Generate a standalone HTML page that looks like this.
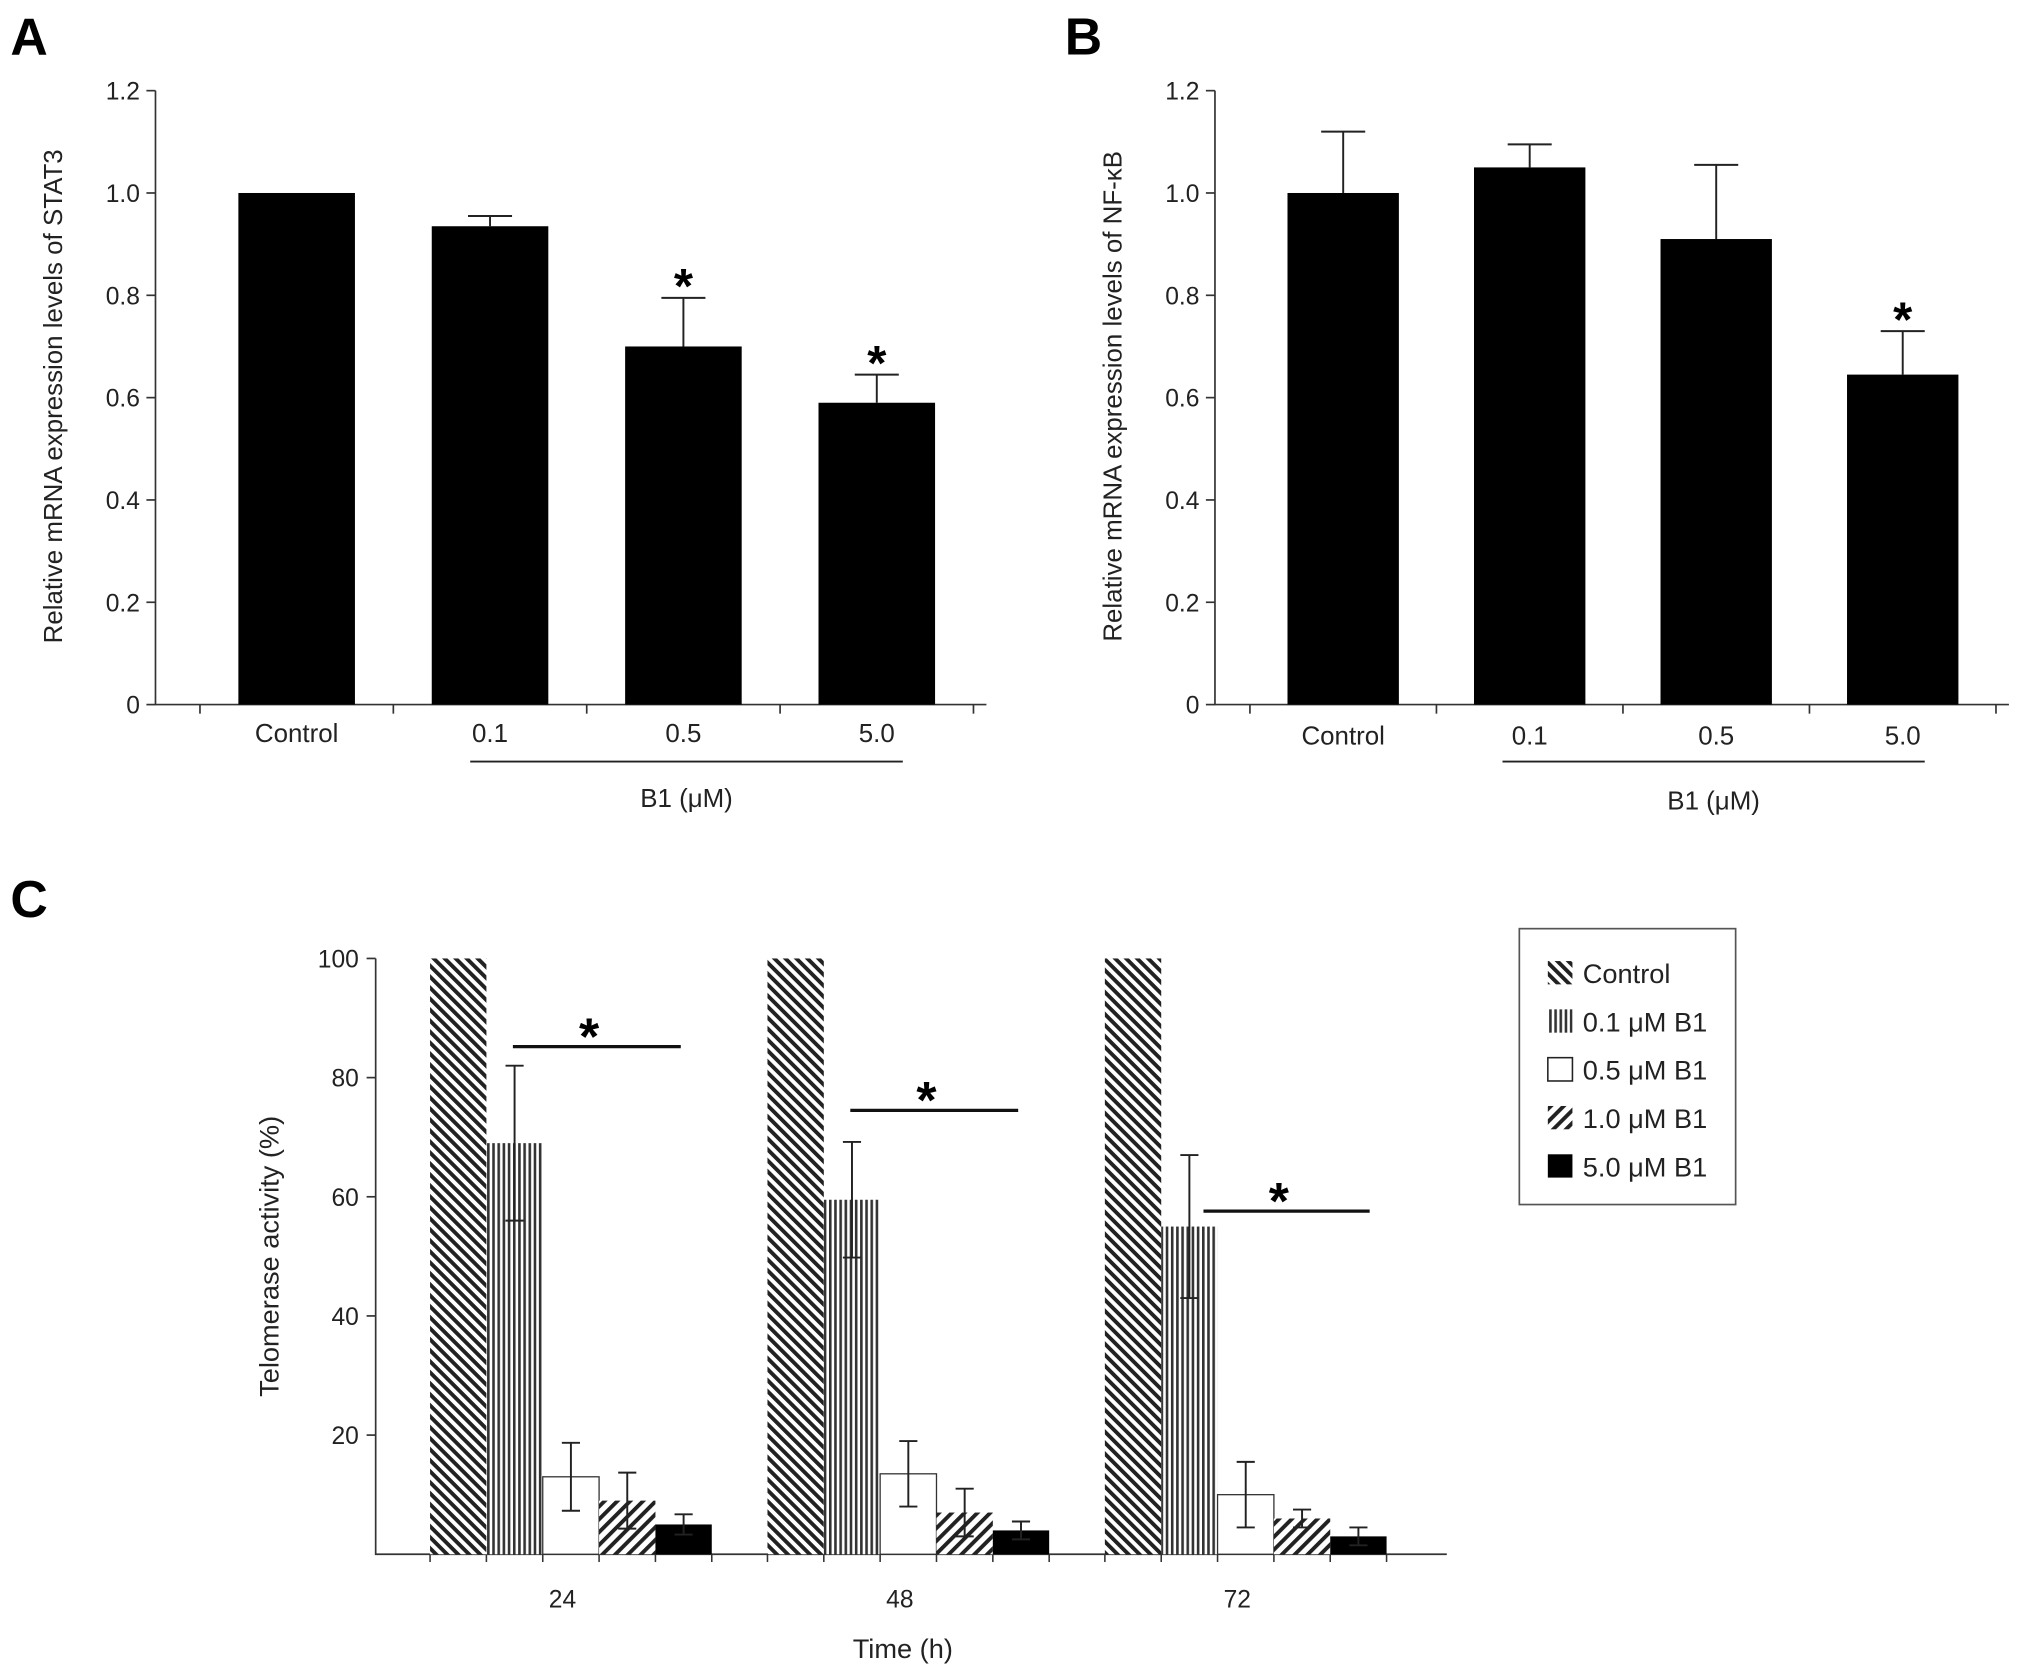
<!DOCTYPE html>
<html><head><meta charset="utf-8"><style>
html,body{margin:0;padding:0;background:#fff}
svg{display:block;font-family:"Liberation Sans",sans-serif}
</style></head><body>
<svg id="fig" width="2031" height="1676" viewBox="0 0 1568 1294" xmlns="http://www.w3.org/2000/svg">
<defs>
<pattern id="pCtrl" width="6" height="6" patternUnits="userSpaceOnUse" patternTransform="rotate(-45)"><rect width="6" height="6" fill="#fff"/><rect width="3" height="6" fill="#222"/></pattern>
<pattern id="pVert" width="4" height="4" patternUnits="userSpaceOnUse"><rect width="4" height="4" fill="#fff"/><rect width="2" height="4" fill="#333"/></pattern>
<pattern id="pDiag" width="7" height="7" patternUnits="userSpaceOnUse" patternTransform="rotate(45)"><rect width="7" height="7" fill="#fff"/><rect width="3" height="7" fill="#222"/></pattern>
</defs>
<g id="A"></g>
<g id="B"></g>
<g id="C"></g>
</svg>
<script>
const catsA=["Control","0.1","0.5","5.0"];
const valsA=[1.0,0.935,0.70,0.59];
const errA=[0,0.02,0.095,0.055];
const sigA=[false,false,true,true];
const catsB=["Control","0.1","0.5","5.0"];
const valsB=[1.0,1.05,0.91,0.645];
const errB=[0.12,0.045,0.145,0.085];
const sigB=[false,false,false,true];
const ticksAB=["0","0.2","0.4","0.6","0.8","1.0","1.2"];
const groupsC=["24","48","72"];
const seriesC=["Control","0.1 μM B1","0.5 μM B1","1.0 μM B1","5.0 μM B1"];
const ctrlC=[100,100,100];
const s01C=[69,59.5,55];
const s05C=[13,13.5,10];
const s10C=[9,7,6];
const s50C=[5,4,3];
const e01C=[13,9.7,12];
const e05C=[5.7,5.5,5.5];
const e10C=[4.7,4,1.5];
const e50C=[1.7,1.5,1.5];
const sigLineC=[85.2,74.5,57.6];
const ticksC=["20","40","60","80","100"];

const NS="http://www.w3.org/2000/svg";
function el(p,t,a){const e=document.createElementNS(NS,t);for(const k in a)e.setAttribute(k,a[k]);p.appendChild(e);return e;}

function panelAB(g,cats,vals,errs,sig,ax,barW,spacing,firstC,title,letter,letterX,lblY,ulx1,ulx2,ytitleX){
  const y=v=>544-v/1.2*474;
  const L=el(g,'text',{x:letterX,y:42,'font-size':40,'font-weight':'bold'});L.textContent=letter;
  
  
  const axis=el(g,'path',{d:`M${ax},70V544H${firstC+spacing*3.5+10}`,stroke:'#333','stroke-width':1.3,fill:'none'});
  
  
  ticksAB.forEach((t,i)=>{const v=i*0.2;
    el(g,'line',{x1:ax-7,x2:ax,y1:y(v),y2:y(v),stroke:'#333','stroke-width':1.3});
    const tx=el(g,'text',{x:ax-12,y:y(v)+7,'font-size':19,'text-anchor':'end',fill:'#222'});tx.textContent=t;
    
    
  });
  cats.forEach((c,i)=>{const cx=firstC+i*spacing;
    const b=el(g,'rect',{x:cx-barW/2,y:y(vals[i]),width:barW,height:544-y(vals[i]),fill:'#000'});
    
    
    el(g,'line',{x1:cx+spacing/2,x2:cx+spacing/2,y1:544,y2:551,stroke:'#333','stroke-width':1.3});
    if(i===0) el(g,'line',{x1:cx-spacing/2,x2:cx-spacing/2,y1:544,y2:551,stroke:'#333','stroke-width':1.3});
    if(errs[i]>0){const top=y(vals[i]+errs[i]);
      el(g,'line',{x1:cx,x2:cx,y1:top,y2:y(vals[i]),stroke:'#222','stroke-width':1.5});
      el(g,'line',{x1:cx-17,x2:cx+17,y1:top,y2:top,stroke:'#222','stroke-width':1.5});}
    if(sig[i]){const s=el(g,'text',{x:cx,y:y(vals[i]+errs[i])+4,'font-size':38,'font-weight':'bold','text-anchor':'middle'});s.textContent='*';
      
      }
    const t=el(g,'text',{x:cx,y:lblY,'font-size':20,'text-anchor':'middle',fill:'#222'});t.textContent=c;
    
    
  });
  el(g,'line',{x1:ulx1,x2:ulx2,y1:588,y2:588,stroke:'#222','stroke-width':1.5});
  const b1=el(g,'text',{x:(ulx1+ulx2)/2,y:lblY+50,'font-size':20,'text-anchor':'middle',fill:'#222'});b1.textContent='B1 (μM)';
  
  
  const yt=el(g,'text',{x:0,y:0,'font-size':20,'text-anchor':'middle',fill:'#222',transform:`translate(${ytitleX},306) rotate(-90)`});yt.textContent=title;
  
  
}
panelAB(document.getElementById('A'),catsA,valsA,errA,sigA,120,90,149.3,229,'Relative mRNA expression levels of STAT3','A',8,573,363,697,48);
panelAB(document.getElementById('B'),catsB,valsB,errB,sigB,938,86,144,1037,'Relative mRNA expression levels of NF-κB','B',822,575,1160,1486,866);

(function(){
  const g=document.getElementById('C');
  const y=v=>1200-v/100*460;
  const L=el(g,'text',{x:8,y:708,'font-size':40,'font-weight':'bold'});L.textContent='C';
  
  
  const ax=el(g,'path',{d:'M290,740V1200H1117',stroke:'#333','stroke-width':1.3,fill:'none'});
  
  
  ticksC.forEach(t=>{const v=+t;
    el(g,'line',{x1:283,x2:290,y1:y(v),y2:y(v),stroke:'#333','stroke-width':1.3});
    const tx=el(g,'text',{x:277,y:y(v)+7,'font-size':19,'text-anchor':'end',fill:'#222'});tx.textContent=t;
    
    
  });
  const fills=['url(#pCtrl)','url(#pVert)','#fff','url(#pDiag)','#000'];
  const vals=[ctrlC,s01C,s05C,s10C,s50C];
  const errs=[null,e01C,e05C,e10C,e50C];
  const bw=43.5, gap=260.5, x0=332;
  groupsC.forEach((gr,gi)=>{
    const gx=x0+gi*gap;
    for(let k=0;k<=5;k++) el(g,'line',{x1:gx+k*bw,x2:gx+k*bw,y1:1200,y2:1206,stroke:'#333','stroke-width':1.2});
    vals.forEach((arr,si)=>{const bx=gx+si*bw,v=arr[gi];
      const r=el(g,'rect',{x:bx,y:y(v),width:bw,height:1200-y(v),fill:fills[si],stroke:si===2?'#333':'none','stroke-width':1});
      
      
      if(errs[si]){const e=errs[si][gi],cx=bx+bw/2;
        el(g,'line',{x1:cx,x2:cx,y1:y(v+e),y2:y(v-e),stroke:'#222','stroke-width':1.5});
        el(g,'line',{x1:cx-7,x2:cx+7,y1:y(v+e),y2:y(v+e),stroke:'#222','stroke-width':1.5});
        el(g,'line',{x1:cx-7,x2:cx+7,y1:y(v-e),y2:y(v-e),stroke:'#222','stroke-width':1.5});}
    });
    const sy=y(sigLineC[gi]);
    const sx1=gx+bw*(gi===2?1.75:1.47), sx2=gx+bw*(gi===2?4.7:4.45);
    el(g,'line',{x1:sx1,x2:sx2,y1:sy,y2:sy,stroke:'#111','stroke-width':2.5});
    const st=el(g,'text',{x:(sx1+sx2)/2-6,y:sy+6,'font-size':40,'font-weight':'bold','text-anchor':'middle'});st.textContent='*';
    
    
    const t=el(g,'text',{x:gx+bw*2.35,y:1241,'font-size':19,'text-anchor':'middle',fill:'#222'});t.textContent=gr;
    
    
  });
  const xt=el(g,'text',{x:697,y:1280,'font-size':21,'text-anchor':'middle',fill:'#222'});xt.textContent='Time (h)';
  
  
  const yt=el(g,'text',{x:0,y:0,'font-size':21,'text-anchor':'middle',fill:'#222',transform:'translate(215,970) rotate(-90)'});yt.textContent='Telomerase activity (%)';
  
  
  const lg=el(g,'g',{});
  
  
  el(lg,'rect',{x:1173,y:717,width:167,height:213,fill:'#fff',stroke:'#555','stroke-width':1.3});
  seriesC.forEach((s,i)=>{const ly=751+i*37.3;
    const e=el(lg,'g',{});
    
    
    el(e,'rect',{x:1195,y:ly-9,width:19,height:18,fill:fills[i],stroke:i===2?'#222':'none','stroke-width':1.2});
    const t=el(e,'text',{x:1222,y:ly+8,'font-size':21,fill:'#222'});t.textContent=s;
  });
})();
</script>
</body></html>
